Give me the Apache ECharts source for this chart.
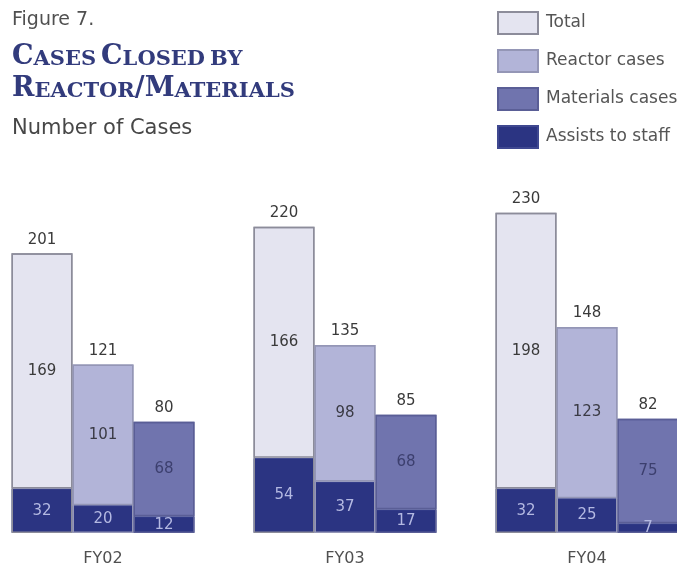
<!DOCTYPE html>
<html>
<head>
<meta charset="utf-8">
<script src="https://cdn.jsdelivr.net/npm/echarts@6/dist/echarts.min.js"></script>
<style>
html,body{margin:0;padding:0;background:#fff;overflow:hidden;width:677px;height:570px;position:relative;}
#chart{width:726px;height:570px;position:absolute;left:-18px;top:0;}
</style>
</head>
<body>
<div id="chart"></div>
<script>
const categories = ['FY02', 'FY03', 'FY04'];
const totalCases = [201, 220, 230];
const totalOther = [169, 166, 198];
const totalAssists = [32, 54, 32];
const reactorCases = [121, 135, 148];
const reactorOther = [101, 98, 123];
const reactorAssists = [20, 37, 25];
const materialsCases = [80, 85, 82];
const materialsOther = [68, 68, 75];
const materialsAssists = [12, 17, 7];
const legendNames = ['Total', 'Reactor cases', 'Materials cases', 'Assists to staff'];

const SHIFT = 18; // chart canvas starts 18px left of the window
const NAVY = '#2b3482';
const groups = [
  { key: 'T', name: 'Total', other: totalOther, assists: totalAssists, totals: totalCases,
    fill: '#e4e4f0', border: '#8c8c9a', text: '#3a3a3a' },
  { key: 'R', name: 'Reactor cases', other: reactorOther, assists: reactorAssists, totals: reactorCases,
    fill: '#b2b4d8', border: '#9496b6', text: '#3a3a44' },
  { key: 'M', name: 'Materials cases', other: materialsOther, assists: materialsAssists, totals: materialsCases,
    fill: '#7074ae', border: '#5a5e96', text: '#3c3f6e' }
];

const FONT = '"DejaVu Sans", Arial, sans-serif';
const series = [];
groups.forEach(g => {
  series.push({
    name: 'Assists to staff', type: 'bar', stack: g.key, xAxisIndex: 0,
    data: g.assists, barWidth: 61, barGap: '0%',
    itemStyle: { color: NAVY, borderColor: '#3f4890', borderWidth: 1 },
    label: { show: true, position: 'inside', color: '#b4b9e2', fontSize: 15, fontFamily: FONT },
    emphasis: { disabled: true }
  });
  series.push({
    name: g.name, type: 'bar', stack: g.key, xAxisIndex: 0,
    data: g.other, barWidth: 61, barGap: '0%',
    itemStyle: { color: g.fill, borderColor: g.border, borderWidth: 1.5 },
    label: { show: true, position: 'inside', color: g.text, fontSize: 15, fontFamily: FONT },
    emphasis: { disabled: true }
  });
});
groups.forEach(g => {
  series.push({
    name: g.name + ' total', type: 'bar', xAxisIndex: 1,
    data: g.totals, barWidth: 61, barGap: '0%', silent: true,
    itemStyle: { color: 'rgba(0,0,0,0)', borderColor: g.border, borderWidth: 1.5 },
    label: { show: true, position: 'top', distance: 6, color: '#3a3a3a', fontSize: 15, fontFamily: FONT },
    emphasis: { disabled: true }
  });
});

const chart = echarts.init(document.getElementById('chart'), null, { renderer: 'canvas' });
chart.setOption({
  animation: false,
  backgroundColor: '#ffffff',
  title: [
    { text: 'Figure 7.', left: 7 + SHIFT, top: 6,
      textStyle: { fontFamily: FONT, fontSize: 19, fontWeight: 'normal', color: '#505050' } },
    { text: '{c|C}{s|ASES} {c|C}{s|LOSED} {s|BY}\n{c|R}{s|EACTOR}{c|/M}{s|ATERIALS}', left: 7 + SHIFT, top: 33,
      textStyle: {
        rich: {
          c: { fontFamily: '"DejaVu Serif", serif', fontWeight: 'bold', fontSize: 27, color: '#323b7c', lineHeight: 32, verticalAlign: 'bottom' },
          s: { fontFamily: '"DejaVu Serif", serif', fontWeight: 'bold', fontSize: 21, color: '#323b7c', lineHeight: 32, verticalAlign: 'bottom' }
        }
      } },
    { text: 'Number of Cases', left: 7 + SHIFT, top: 113,
      textStyle: { fontFamily: FONT, fontSize: 21, fontWeight: 'normal', color: '#474747' } }
  ],
  legend: {
    data: legendNames, orient: 'vertical', left: 492 + SHIFT, top: 6,
    itemWidth: 40, itemHeight: 22, itemGap: 14, icon: 'rect',
    selectedMode: false,
    textStyle: { fontFamily: FONT, fontSize: 17, color: '#555555', padding: [0, 0, 0, 3] }
  },
  grid: { left: 0, right: 0, top: 185, bottom: 37, containLabel: false },
  xAxis: [
    { type: 'category', data: categories,
      axisLine: { show: false }, axisTick: { show: false }, splitLine: { show: false },
      axisLabel: { color: '#505050', fontSize: 16, fontFamily: FONT, margin: 18 } },
    { type: 'category', data: categories, show: false }
  ],
  yAxis: { type: 'value', min: 0, max: 250, show: false, splitLine: { show: false } },
  series: series
});
</script>
</body>
</html>
